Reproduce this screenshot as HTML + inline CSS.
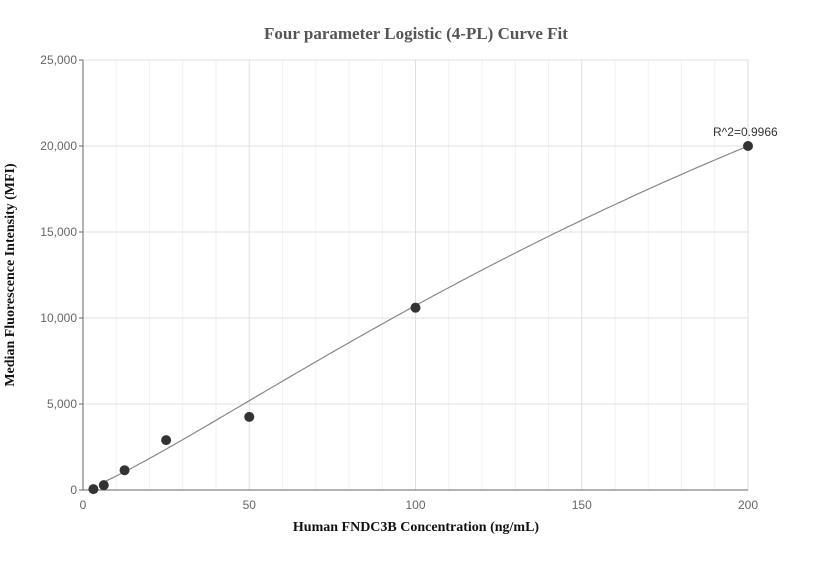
<!DOCTYPE html>
<html><head><meta charset="utf-8"><style>
body{margin:0;background:#fff;}
svg text{font-family:"Liberation Sans",sans-serif;}
</style></head><body>
<svg id="chart" width="832" height="560" xmlns="http://www.w3.org/2000/svg">
<text x="416" y="39" text-anchor="middle" font-family="Liberation Serif" style="font-family:'Liberation Serif',serif" font-weight="bold" font-size="17" fill="#555">Four parameter Logistic (4-PL) Curve Fit</text>
<g id="grid"></g>
<g id="axes"></g>
<g id="marks"></g>
<text x="416" y="531" text-anchor="middle" style="font-family:'Liberation Serif',serif" font-weight="bold" font-size="14" fill="#111">Human FNDC3B Concentration (ng/mL)</text>
<text transform="translate(14,275) rotate(-90)" text-anchor="middle" style="font-family:'Liberation Serif',serif" font-weight="bold" font-size="14" fill="#111">Median Fluorescence Intensity (MFI)</text>
</svg>
<script>
const xValues=[3.125,6.25,12.5,25,50,100,200];
const yValues=[50,280,1150,2900,4250,10600,20000];
const xTicks=[0,50,100,150,200];
const yTicks=[0,5000,10000,15000,20000,25000];
const fitParams=[0,60000,356.4,1.2]; // a,d,c,b
const r2Label="R^2=0.9966";
const NS="http://www.w3.org/2000/svg";
const X0=83,X1=748,Y0=490,Y1=60;
const sx=v=>X0+(v-0)/(200-0)*(X1-X0);
const sy=v=>Y0-(v-0)/(25000-0)*(Y0-Y1);
function mk(tag,attrs,parent){const e=document.createElementNS(NS,tag);for(const k in attrs)e.setAttribute(k,attrs[k]);parent.appendChild(e);return e;}
const grid=document.getElementById('grid'),axes=document.getElementById('axes'),marks=document.getElementById('marks');
for(let v=10;v<=200;v+=10){const l=mk('line',{x1:sx(v),x2:sx(v),y1:Y1,y2:Y0,stroke:v%50===0?'#e0e0e0':'#f2f2f2'},grid);

}
yTicks.forEach(v=>{if(v===0)return;const l=mk('line',{x1:X0,x2:X1,y1:sy(v),y2:sy(v),stroke:'#e0e0e0'},grid);

});
const xa=mk('line',{x1:X0,x2:X1,y1:Y0,y2:Y0,stroke:'#666'},axes);


const ya=mk('line',{x1:X0,x2:X0,y1:Y1,y2:Y0,stroke:'#666'},axes);


xTicks.forEach(v=>{const t=mk('text',{x:sx(v),y:Y0+19,'text-anchor':'middle','font-size':12,fill:'#666'},axes);t.textContent=v;

});
yTicks.forEach(v=>{const t=mk('text',{x:X0-6,y:sy(v)+4,'text-anchor':'end','font-size':12,fill:'#666'},axes);t.textContent=v.toLocaleString('en-US');


const tk=mk('line',{x1:X0-4,x2:X0,y1:sy(v),y2:sy(v),stroke:'#666'},axes);

});
const [a,d,c,b]=fitParams;
const f=x=>d+(a-d)/(1+Math.pow(x/c,b));
let p='';for(let x=5;x<=200;x+=1){p+=(p?'L':'M')+sx(x).toFixed(1)+','+sy(f(x)).toFixed(1);}
const curve=mk('path',{d:p,fill:'none',stroke:'#888','stroke-width':1.2},marks);


xValues.forEach((x,i)=>{const cc=mk('circle',{cx:sx(x),cy:sy(yValues[i]),r:5,fill:'#333'},marks);

});
const r=mk('text',{x:sx(200)-35,y:sy(yValues[6])-10,'font-size':12,fill:'#333'},marks);r.textContent=r2Label;


</script>
</body></html>
